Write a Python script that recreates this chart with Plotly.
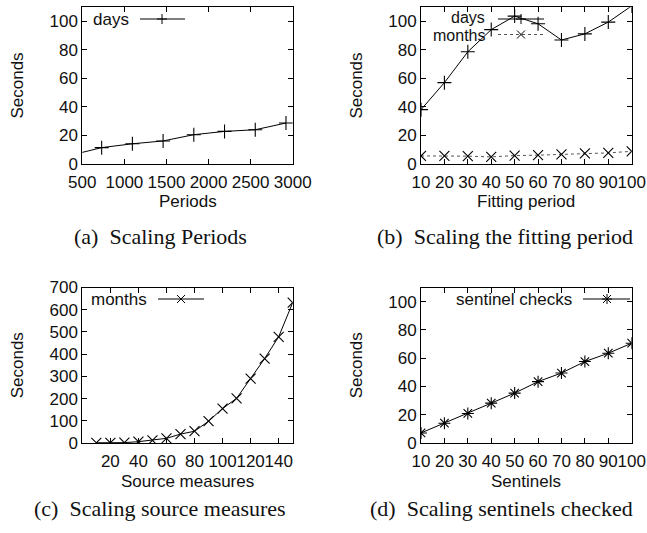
import plotly.graph_objects as go

W, H = 647, 533

# ---------------- data ----------------
a_periods = [365, 730, 1095, 1460, 1825, 2190, 2555, 2920]
a_days = [6.0, 11.3, 14.0, 16.0, 20.4, 22.7, 23.9, 28.6]

b_fitting = [10, 20, 30, 40, 50, 60, 70, 80, 90, 100]
b_days = [38.0, 57.0, 78.7, 94.3, 103.8, 98.4, 87.0, 91.3, 99.6, 111.0]
b_months = [5.5, 5.5, 5.3, 4.8, 5.7, 6.0, 6.5, 7.2, 7.6, 8.7]

c_sources = [10, 20, 30, 40, 50, 60, 70, 80, 90, 100, 110, 120, 130, 140, 150]
c_months = [1, 1, 1.5, 6, 12, 21, 40, 53, 98, 155, 201, 290, 380, 478, 632]

d_sentinels = [10, 20, 30, 40, 50, 60, 70, 80, 90, 100]
d_checks = [7.1, 14.0, 20.9, 28.2, 35.3, 43.4, 49.5, 57.6, 63.5, 70.6]

a_xticks = [500, 1000, 1500, 2000, 2500, 3000]
b_xticks = [10, 20, 30, 40, 50, 60, 70, 80, 90, 100]
c_xticks = [20, 40, 60, 80, 100, 120, 140]
sec_ticks = [0, 20, 40, 60, 80, 100]
c_yticks = [0, 100, 200, 300, 400, 500, 600, 700]

captions = ["(a)  Scaling Periods", "(b)  Scaling the fitting period",
            "(c)  Scaling source measures", "(d)  Scaling sentinels checked"]
xtitles = ["Periods", "Fitting period", "Source measures", "Sentinels"]

# ---------------- layout helpers ----------------
SANS = "Liberation Sans, Arial, sans-serif"
SERIF = "Liberation Serif, Times New Roman, serif"
FS = 17


def px(x):
    return x / W


def py(y):
    return 1 - y / H


# plot areas in pixels (left, right, top, bottom)
boxes = {
    1: (82.3, 292.7, 7.3, 163.7),
    2: (421.0, 631.7, 7.3, 163.7),
    3: (82.3, 292.7, 287.5, 443.0),
    4: (421.0, 631.7, 287.5, 443.0),
}

fig = go.Figure()


def line_trace(x, y, axis, symbol, dash="solid", color="black"):
    sfx = "" if axis == 1 else str(axis)
    return go.Scatter(
        x=x, y=y, mode="lines+markers",
        xaxis="x" + sfx, yaxis="y" + sfx,
        line=dict(color=color, width=1, dash=dash),
        marker=dict(symbol=symbol, size=10, color="black",
                    line=dict(color="black", width=1.1)),
        showlegend=False, cliponaxis=True,
    )


fig.add_trace(line_trace(a_periods, a_days, 1, "cross-thin"))
fig.add_trace(line_trace(b_fitting, b_days, 2, "cross-thin"))
fig.add_trace(line_trace(b_fitting, b_months, 2, "x-thin", dash="dot", color="#555555"))
fig.add_trace(line_trace(c_sources, c_months, 3, "x-thin"))
fig.add_trace(line_trace(d_sentinels, d_checks, 4, "asterisk"))

axis_common = dict(
    showline=True, linecolor="black", linewidth=1, mirror="allticks",
    ticks="inside", ticklen=5, tickcolor="black", tickwidth=1,
    showgrid=False, zeroline=False, tickangle=0, automargin=False,
    tickfont=dict(family=SANS, size=FS, color="#111111"),
)

ranges = {
    1: ([500, 3000], a_xticks, [0, 110], sec_ticks),
    2: ([10, 100], b_xticks, [0, 110], sec_ticks),
    3: ([0, 150], c_xticks, [0, 700], c_yticks),
    4: ([10, 100], b_xticks, [0, 110], sec_ticks),
}

layout = dict(
    width=W, height=H, margin=dict(l=0, r=0, t=0, b=0),
    paper_bgcolor="white", plot_bgcolor="white", showlegend=False,
    annotations=[], shapes=[],
)

for i in range(1, 5):
    l, r, t, b = boxes[i]
    xr, xt, yr, yt = ranges[i]
    sfx = "" if i == 1 else str(i)
    layout["xaxis" + sfx] = dict(axis_common, domain=[px(l), px(r)], range=xr,
                                 tickvals=xt, anchor="y" + sfx,
                                 ticklabelstandoff=3)
    layout["yaxis" + sfx] = dict(
        axis_common, domain=[py(b), py(t)], range=yr, tickvals=yt,
        anchor="x" + sfx,
        title=dict(text="Seconds", standoff=21,
                   font=dict(family=SANS, size=FS, color="#111111")))

ann = layout["annotations"]
shp = layout["shapes"]


def text(x, y, s, size=FS, family=SANS, xanchor="center", angle=0):
    ann.append(dict(x=px(x), y=py(y), xref="paper", yref="paper", text=s,
                    showarrow=False, xanchor=xanchor, yanchor="middle",
                    textangle=angle, borderpad=0,
                    font=dict(family=family, size=size, color="#111111")))


def seg(x0, y0, x1, y1, dash="solid", color="black"):
    shp.append(dict(type="line", xref="paper", yref="paper",
                    x0=px(x0), y0=py(y0), x1=px(x1), y1=py(y1),
                    line=dict(color=color, width=1, dash=dash)))


def glyph(kind, cx, cy, s=5):
    if kind in ("plus", "star"):
        seg(cx - s, cy, cx + s, cy)
        seg(cx, cy - s, cx, cy + s)
    if kind in ("x", "star"):
        d = s * 0.8
        seg(cx - d, cy - d, cx + d, cy + d)
        seg(cx - d, cy + d, cx + d, cy - d)


# x-axis titles
for i, title in enumerate(xtitles, start=1):
    l, r, t, b = boxes[i]
    text((l + r) / 2, b + 38, title)

# legends (gnuplot-style key)
text(130, 19, "days", xanchor="right")
seg(140, 19, 185, 19)
glyph("plus", 162, 19)

text(486, 18, "days", xanchor="right", size=16)
seg(498, 19, 544, 19)
glyph("plus", 521, 19)
text(486, 35.5, "months", xanchor="right", size=16)
seg(498, 34.5, 544, 34.5, dash="dot", color="#555555")
glyph("x", 521, 34.5)

text(148, 299, "months", xanchor="right")
seg(158, 299, 204, 299)
glyph("x", 181, 299)

text(573, 299, "sentinel checks", xanchor="right")
seg(583, 299, 630, 299)
glyph("star", 607, 299)

# captions
text(160, 236, captions[0], size=22, family=SERIF)
text(505, 236, captions[1], size=22, family=SERIF)
text(160, 508, captions[2], size=22, family=SERIF)
text(501, 508, captions[3], size=22, family=SERIF)

fig.update_layout(**layout)
fig.write_html("out.html")
